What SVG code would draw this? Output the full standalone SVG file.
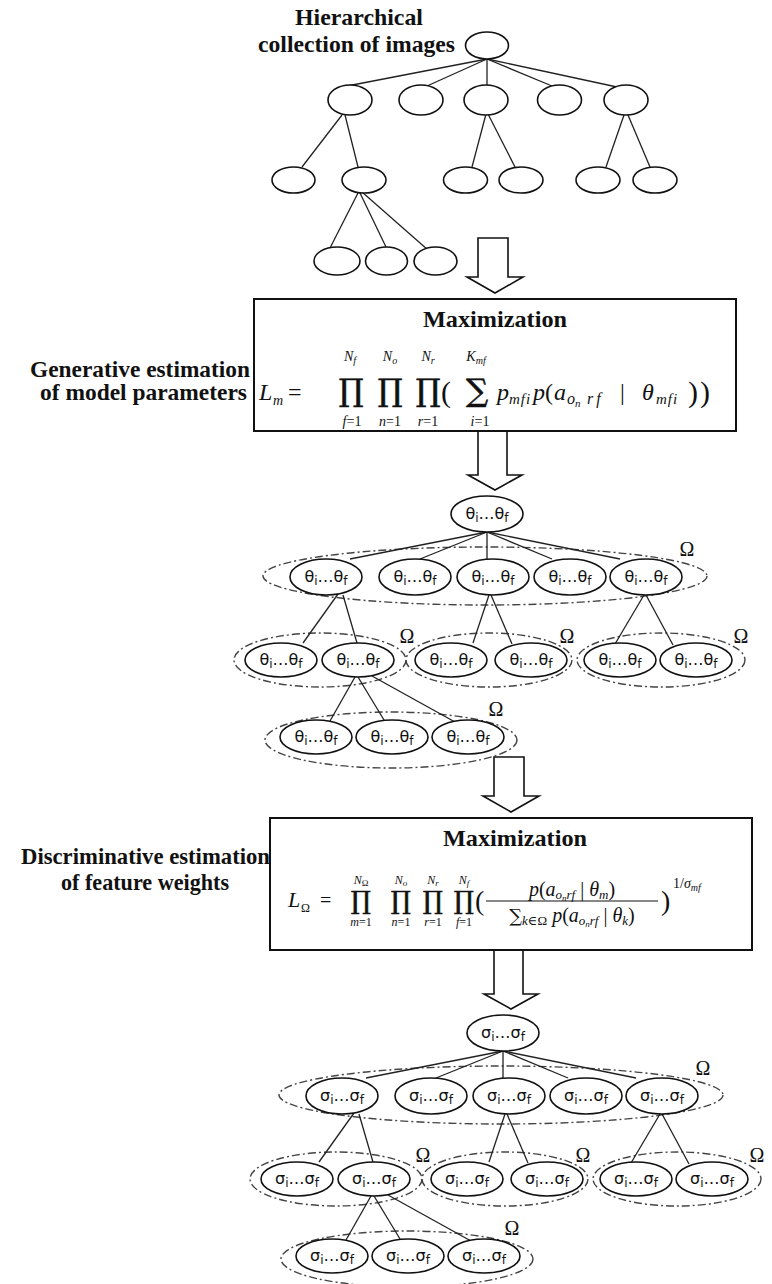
<svg xmlns="http://www.w3.org/2000/svg" width="772" height="1284" viewBox="0 0 772 1284">
<style>
.bg{fill:#fff}
.tn{fill:#fff;stroke:#111;stroke-width:1.6}
.nd{fill:#fff;stroke:#111;stroke-width:1.6}
.grp{fill:none;stroke:#444;stroke-width:1.4;stroke-dasharray:8 3 2 3}
.edge{stroke:#222;stroke-width:1.3;fill:none}
.arrow{fill:#fff;stroke:#111;stroke-width:1.6;stroke-linejoin:miter}
.box{fill:#fff;stroke:#111;stroke-width:2}
.lbl{font-family:"Liberation Serif","Times New Roman",serif;font-weight:bold;font-size:23px;fill:#111}
.nt{font-family:"DejaVu Sans",sans-serif;font-size:16px;fill:#111;text-anchor:middle}
.sb{font-size:12px}
.om{font-family:"Liberation Serif",serif;font-size:20px;fill:#111;text-anchor:middle}
.mi{font-family:"Liberation Serif","DejaVu Serif",serif;font-style:italic;fill:#111}
.mr{font-family:"Liberation Serif","DejaVu Serif",serif;font-style:normal;fill:#111}
.op{font-family:"DejaVu Serif",serif;fill:#111;stroke:#111;stroke-width:0.6;text-anchor:middle}
.c{text-anchor:middle}
</style>
<rect class="bg" x="0" y="0" width="772" height="1284"/>

<!-- ===== Top tree ===== -->
<g id="title">
<text class="lbl" x="295" y="25" textLength="128" lengthAdjust="spacingAndGlyphs">Hierarchical</text>
<text class="lbl" x="258" y="52" textLength="197" lengthAdjust="spacingAndGlyphs">collection of images</text>
</g>
<g id="top-edges">
<line class="edge" x1="487" y1="59" x2="342" y2="87"/>
<line class="edge" x1="487" y1="59" x2="427" y2="86"/>
<line class="edge" x1="487" y1="59" x2="487" y2="86"/>
<line class="edge" x1="487" y1="59" x2="552" y2="86"/>
<line class="edge" x1="487" y1="59" x2="617" y2="87"/>
<line class="edge" x1="342" y1="115" x2="302" y2="167"/>
<line class="edge" x1="345" y1="115" x2="358" y2="167"/>
<line class="edge" x1="486" y1="114" x2="472" y2="167"/>
<line class="edge" x1="488" y1="114" x2="515" y2="167"/>
<line class="edge" x1="624" y1="115" x2="606" y2="167"/>
<line class="edge" x1="628" y1="115" x2="650" y2="167"/>
<line class="edge" x1="358" y1="193" x2="330" y2="248"/>
<line class="edge" x1="360" y1="193" x2="386" y2="247"/>
<line class="edge" x1="362" y1="192" x2="428" y2="250"/>
</g>
<g id="top-root"><ellipse class="tn" cx="487" cy="45.5" rx="21.5" ry="13.5"/></g>
<g id="top-n1"><ellipse class="tn" cx="350" cy="100" rx="22" ry="15"/></g>
<g id="top-n2"><ellipse class="tn" cx="421" cy="100" rx="22" ry="15"/></g>
<g id="top-n3"><ellipse class="tn" cx="486" cy="100" rx="22" ry="15"/></g>
<g id="top-n4"><ellipse class="tn" cx="559.5" cy="100" rx="22" ry="15"/></g>
<g id="top-n5"><ellipse class="tn" cx="626" cy="100" rx="22" ry="15"/></g>
<g id="top-n6"><ellipse class="tn" cx="293.5" cy="180" rx="21.5" ry="13"/></g>
<g id="top-n7"><ellipse class="tn" cx="364" cy="180" rx="22" ry="13"/></g>
<g id="top-n8"><ellipse class="tn" cx="465.5" cy="180" rx="22" ry="13"/></g>
<g id="top-n9"><ellipse class="tn" cx="521" cy="180" rx="22" ry="13"/></g>
<g id="top-n10"><ellipse class="tn" cx="598" cy="180" rx="22" ry="13"/></g>
<g id="top-n11"><ellipse class="tn" cx="655" cy="180" rx="22" ry="13"/></g>
<g id="top-n12"><ellipse class="tn" cx="337" cy="261" rx="23" ry="14"/></g>
<g id="top-n13"><ellipse class="tn" cx="386.5" cy="261" rx="21" ry="14"/></g>
<g id="top-n14"><ellipse class="tn" cx="435.5" cy="261" rx="21.5" ry="14"/></g>

<!-- ===== Block arrows ===== -->
<g id="arrows">
<path class="arrow" d="M478,238 H508 V277 H523 L495,293 L467,277 H478 Z"/>
<path class="arrow" d="M478,431 V475 H468 L495,490 L522,475 H507 V431"/>
<g transform="translate(16,519)">
<path class="arrow" d="M478,238 H508 V277 H523 L495,293 L467,277 H478 Z"/>
<path class="arrow" d="M478,431 V475 H468 L495,490 L522,475 H507 V431"/>
</g>
</g>

<!-- ===== Box 1: generative ===== -->
<g id="label-generative">
<text class="lbl" x="30" y="377" textLength="220" lengthAdjust="spacingAndGlyphs">Generative estimation</text>
<text class="lbl" x="40" y="400" textLength="207" lengthAdjust="spacingAndGlyphs">of model parameters</text>
</g>
<g id="box-generative">
<rect class="box" x="254" y="299" width="482" height="132"/>
<text class="lbl" x="423" y="327" textLength="144" lengthAdjust="spacingAndGlyphs">Maximization</text>
<text class="mi" x="259" y="400" font-size="24">L</text>
<text class="mi" x="273" y="405" font-size="14">m</text>
<text class="mr" x="288" y="400" font-size="24">=</text>
<text class="op" x="351" y="401" font-size="31">∏</text>
<text class="op" x="390" y="401" font-size="31">∏</text>
<text class="op" x="428" y="401" font-size="31">∏</text>
<text class="mr" x="441" y="402" font-size="30">(</text>
<text class="op" x="477" y="401" font-size="31">∑</text>
<text class="mi c" x="350" y="361" font-size="14">N<tspan font-size="10" dy="3">f</tspan></text>
<text class="mi c" x="390" y="361" font-size="14">N<tspan font-size="10" dy="3">o</tspan></text>
<text class="mi c" x="428" y="361" font-size="14">N<tspan font-size="10" dy="3">r</tspan></text>
<text class="mi c" x="476" y="361" font-size="14">K<tspan font-size="10" dy="3">mf</tspan></text>
<text class="mi c" x="352" y="426" font-size="14">f<tspan font-style="normal">=1</tspan></text>
<text class="mi c" x="390" y="426" font-size="14">n<tspan font-style="normal">=1</tspan></text>
<text class="mi c" x="428" y="426" font-size="14">r<tspan font-style="normal">=1</tspan></text>
<text class="mi c" x="480" y="426" font-size="14">i<tspan font-style="normal">=1</tspan></text>
<text class="mi" y="400" font-size="24"><tspan x="497">p</tspan><tspan x="509" dy="4" font-size="15" letter-spacing="1">mfi</tspan><tspan x="533" dy="-4">p</tspan><tspan x="545" font-style="normal">(</tspan><tspan x="554">a</tspan><tspan x="567" dy="4" font-size="16">o</tspan><tspan dy="3" font-size="11">n</tspan><tspan x="587" dy="-3" font-size="16" letter-spacing="3">rf</tspan><tspan x="620" dy="-4" font-style="normal">|</tspan><tspan x="642">θ</tspan><tspan x="656" dy="4" font-size="15" letter-spacing="1">mfi</tspan></text>
<text class="mr" x="688" y="402" font-size="30" letter-spacing="2">))</text>
</g>

<!-- ===== Theta tree ===== -->
<g id="theta-groups">
<ellipse class="grp" cx="485" cy="576" rx="222" ry="29"/>
<ellipse class="grp" cx="320" cy="660" rx="86" ry="27"/>
<ellipse class="grp" cx="489" cy="660" rx="83" ry="27"/>
<ellipse class="grp" cx="661" cy="660" rx="84" ry="27"/>
<ellipse class="grp" cx="391" cy="740" rx="126" ry="28"/>
<text class="om" x="687" y="556">Ω</text>
<text class="om" x="407" y="643">Ω</text>
<text class="om" x="567" y="643">Ω</text>
<text class="om" x="741" y="643">Ω</text>
<text class="om" x="496" y="716">Ω</text>
</g>
<g id="theta-edges">
<line class="edge" x1="487" y1="532" x2="350" y2="559"/>
<line class="edge" x1="487" y1="532" x2="420" y2="559"/>
<line class="edge" x1="487" y1="532" x2="487" y2="559"/>
<line class="edge" x1="487" y1="532" x2="552" y2="559"/>
<line class="edge" x1="487" y1="532" x2="620" y2="559"/>
<line class="edge" x1="338" y1="594" x2="303" y2="643"/>
<line class="edge" x1="343" y1="595" x2="357" y2="643"/>
<line class="edge" x1="489" y1="595" x2="473" y2="643"/>
<line class="edge" x1="491" y1="595" x2="512" y2="644"/>
<line class="edge" x1="644" y1="595" x2="615" y2="644"/>
<line class="edge" x1="646" y1="595" x2="673" y2="645"/>
<line class="edge" x1="355" y1="677" x2="330" y2="721"/>
<line class="edge" x1="358" y1="677" x2="384" y2="720"/>
<line class="edge" x1="372" y1="676" x2="455" y2="722"/>
</g>
<g id="th-root"><ellipse class="nd" cx="487" cy="514" rx="36" ry="18"/><text class="nt" x="487" y="519">θ<tspan class="sb" dy="3">i</tspan><tspan dy="-3">…θ</tspan><tspan class="sb" dy="3">f</tspan></text></g>
<g id="th-1"><ellipse class="nd" cx="326" cy="577" rx="36" ry="18"/><text class="nt" x="326" y="582">θ<tspan class="sb" dy="3">i</tspan><tspan dy="-3">…θ</tspan><tspan class="sb" dy="3">f</tspan></text></g>
<g id="th-2"><ellipse class="nd" cx="415" cy="577" rx="36" ry="18"/><text class="nt" x="415" y="582">θ<tspan class="sb" dy="3">i</tspan><tspan dy="-3">…θ</tspan><tspan class="sb" dy="3">f</tspan></text></g>
<g id="th-3"><ellipse class="nd" cx="493" cy="577" rx="36" ry="18"/><text class="nt" x="493" y="582">θ<tspan class="sb" dy="3">i</tspan><tspan dy="-3">…θ</tspan><tspan class="sb" dy="3">f</tspan></text></g>
<g id="th-4"><ellipse class="nd" cx="570" cy="577" rx="36" ry="18"/><text class="nt" x="570" y="582">θ<tspan class="sb" dy="3">i</tspan><tspan dy="-3">…θ</tspan><tspan class="sb" dy="3">f</tspan></text></g>
<g id="th-5"><ellipse class="nd" cx="646" cy="577" rx="36" ry="18"/><text class="nt" x="646" y="582">θ<tspan class="sb" dy="3">i</tspan><tspan dy="-3">…θ</tspan><tspan class="sb" dy="3">f</tspan></text></g>
<g id="th-6"><ellipse class="nd" cx="281" cy="660" rx="36" ry="17"/><text class="nt" x="281" y="665">θ<tspan class="sb" dy="3">i</tspan><tspan dy="-3">…θ</tspan><tspan class="sb" dy="3">f</tspan></text></g>
<g id="th-7"><ellipse class="nd" cx="358" cy="660" rx="36" ry="17"/><text class="nt" x="358" y="665">θ<tspan class="sb" dy="3">i</tspan><tspan dy="-3">…θ</tspan><tspan class="sb" dy="3">f</tspan></text></g>
<g id="th-8"><ellipse class="nd" cx="451" cy="660" rx="36" ry="17"/><text class="nt" x="451" y="665">θ<tspan class="sb" dy="3">i</tspan><tspan dy="-3">…θ</tspan><tspan class="sb" dy="3">f</tspan></text></g>
<g id="th-9"><ellipse class="nd" cx="531" cy="660" rx="36" ry="17"/><text class="nt" x="531" y="665">θ<tspan class="sb" dy="3">i</tspan><tspan dy="-3">…θ</tspan><tspan class="sb" dy="3">f</tspan></text></g>
<g id="th-10"><ellipse class="nd" cx="620" cy="660" rx="36" ry="17"/><text class="nt" x="620" y="665">θ<tspan class="sb" dy="3">i</tspan><tspan dy="-3">…θ</tspan><tspan class="sb" dy="3">f</tspan></text></g>
<g id="th-11"><ellipse class="nd" cx="696" cy="660" rx="36" ry="17"/><text class="nt" x="696" y="665">θ<tspan class="sb" dy="3">i</tspan><tspan dy="-3">…θ</tspan><tspan class="sb" dy="3">f</tspan></text></g>
<g id="th-12"><ellipse class="nd" cx="316" cy="737" rx="36" ry="17"/><text class="nt" x="316" y="742">θ<tspan class="sb" dy="3">i</tspan><tspan dy="-3">…θ</tspan><tspan class="sb" dy="3">f</tspan></text></g>
<g id="th-13"><ellipse class="nd" cx="392" cy="737" rx="36" ry="17"/><text class="nt" x="392" y="742">θ<tspan class="sb" dy="3">i</tspan><tspan dy="-3">…θ</tspan><tspan class="sb" dy="3">f</tspan></text></g>
<g id="th-14"><ellipse class="nd" cx="468" cy="737" rx="36" ry="17"/><text class="nt" x="468" y="742">θ<tspan class="sb" dy="3">i</tspan><tspan dy="-3">…θ</tspan><tspan class="sb" dy="3">f</tspan></text></g>

<!-- ===== Box 2: discriminative ===== -->
<g id="label-discriminative">
<text class="lbl" x="21" y="864" textLength="249" lengthAdjust="spacingAndGlyphs">Discriminative estimation</text>
<text class="lbl" x="61" y="890" textLength="168" lengthAdjust="spacingAndGlyphs">of feature weights</text>
</g>
<g id="box-discriminative">
<rect class="box" x="270" y="818" width="482" height="132"/>
<text class="lbl" x="443" y="846" textLength="144" lengthAdjust="spacingAndGlyphs">Maximization</text>
<text class="mi" x="288" y="907" font-size="22">L</text>
<text class="mr" x="301" y="912" font-size="12">Ω</text>
<text class="mr" x="320" y="907" font-size="20">=</text>
<text class="op" x="361" y="909" font-size="25">∏</text>
<text class="op" x="401" y="909" font-size="25">∏</text>
<text class="op" x="433" y="909" font-size="25">∏</text>
<text class="op" x="464" y="909" font-size="25">∏</text>
<text class="mi c" x="361" y="884" font-size="12">N<tspan font-style="normal" font-size="9" dy="2">Ω</tspan></text>
<text class="mi c" x="401" y="884" font-size="12">N<tspan font-size="9" dy="2">o</tspan></text>
<text class="mi c" x="433" y="884" font-size="12">N<tspan font-size="9" dy="2">r</tspan></text>
<text class="mi c" x="464" y="884" font-size="12">N<tspan font-size="9" dy="2">f</tspan></text>
<text class="mi c" x="361" y="926" font-size="12">m<tspan font-style="normal">=1</tspan></text>
<text class="mi c" x="401" y="926" font-size="12">n<tspan font-style="normal">=1</tspan></text>
<text class="mi c" x="433" y="926" font-size="12">r<tspan font-style="normal">=1</tspan></text>
<text class="mi c" x="464" y="926" font-size="12">f<tspan font-style="normal">=1</tspan></text>
<text class="mr" x="475" y="910" font-size="28">(</text>
<text class="mi c" x="572" y="896" font-size="20">p<tspan font-style="normal">(</tspan>a<tspan font-size="13" dy="3">o</tspan><tspan font-size="9" dy="2">n</tspan><tspan font-size="13" dy="-2">rf</tspan><tspan dy="-3" font-style="normal"> | </tspan>θ<tspan font-size="13" dy="3">m</tspan><tspan dy="-3" font-style="normal">)</tspan></text>
<line x1="486" y1="901" x2="658" y2="901" stroke="#111" stroke-width="1.2"/>
<text class="mi c" x="572" y="922" font-size="20"><tspan font-family="DejaVu Serif" font-style="normal" font-size="18">∑</tspan><tspan font-size="13" dy="3">k</tspan><tspan font-size="13" font-style="normal">∈Ω</tspan><tspan dy="-3"> p</tspan><tspan font-style="normal">(</tspan>a<tspan font-size="13" dy="3">o</tspan><tspan font-size="9" dy="2">n</tspan><tspan font-size="13" dy="-2">rf</tspan><tspan dy="-3" font-style="normal"> | </tspan>θ<tspan font-size="13" dy="3">k</tspan><tspan dy="-3" font-style="normal">)</tspan></text>
<text class="mr" x="661" y="910" font-size="28">)</text>
<text class="mi" x="673" y="888" font-size="14"><tspan font-style="normal">1/</tspan>σ<tspan font-size="10" dy="3">mf</tspan></text>
</g>

<!-- ===== Sigma tree ===== -->
<g id="sigma-tree" transform="translate(16,519)">
<g id="sigma-groups">
<ellipse class="grp" cx="485" cy="576" rx="222" ry="29"/>
<ellipse class="grp" cx="320" cy="660" rx="86" ry="27"/>
<ellipse class="grp" cx="489" cy="660" rx="83" ry="27"/>
<ellipse class="grp" cx="661" cy="660" rx="84" ry="27"/>
<ellipse class="grp" cx="391" cy="740" rx="126" ry="28"/>
<text class="om" x="687" y="556">Ω</text>
<text class="om" x="407" y="643">Ω</text>
<text class="om" x="567" y="643">Ω</text>
<text class="om" x="741" y="643">Ω</text>
<text class="om" x="496" y="716">Ω</text>
</g>
<g id="sigma-edges">
<line class="edge" x1="487" y1="532" x2="350" y2="559"/>
<line class="edge" x1="487" y1="532" x2="420" y2="559"/>
<line class="edge" x1="487" y1="532" x2="487" y2="559"/>
<line class="edge" x1="487" y1="532" x2="552" y2="559"/>
<line class="edge" x1="487" y1="532" x2="620" y2="559"/>
<line class="edge" x1="338" y1="594" x2="303" y2="643"/>
<line class="edge" x1="343" y1="595" x2="357" y2="643"/>
<line class="edge" x1="489" y1="595" x2="473" y2="643"/>
<line class="edge" x1="491" y1="595" x2="512" y2="644"/>
<line class="edge" x1="644" y1="595" x2="615" y2="644"/>
<line class="edge" x1="646" y1="595" x2="673" y2="645"/>
<line class="edge" x1="355" y1="677" x2="330" y2="721"/>
<line class="edge" x1="358" y1="677" x2="384" y2="720"/>
<line class="edge" x1="372" y1="676" x2="455" y2="722"/>
</g>
<g id="sg-root"><ellipse class="nd" cx="487" cy="514" rx="36" ry="18"/><text class="nt" x="487" y="519">σ<tspan class="sb" dy="3">i</tspan><tspan dy="-3">…σ</tspan><tspan class="sb" dy="3">f</tspan></text></g>
<g id="sg-1"><ellipse class="nd" cx="326" cy="577" rx="36" ry="18"/><text class="nt" x="326" y="582">σ<tspan class="sb" dy="3">i</tspan><tspan dy="-3">…σ</tspan><tspan class="sb" dy="3">f</tspan></text></g>
<g id="sg-2"><ellipse class="nd" cx="415" cy="577" rx="36" ry="18"/><text class="nt" x="415" y="582">σ<tspan class="sb" dy="3">i</tspan><tspan dy="-3">…σ</tspan><tspan class="sb" dy="3">f</tspan></text></g>
<g id="sg-3"><ellipse class="nd" cx="493" cy="577" rx="36" ry="18"/><text class="nt" x="493" y="582">σ<tspan class="sb" dy="3">i</tspan><tspan dy="-3">…σ</tspan><tspan class="sb" dy="3">f</tspan></text></g>
<g id="sg-4"><ellipse class="nd" cx="570" cy="577" rx="36" ry="18"/><text class="nt" x="570" y="582">σ<tspan class="sb" dy="3">i</tspan><tspan dy="-3">…σ</tspan><tspan class="sb" dy="3">f</tspan></text></g>
<g id="sg-5"><ellipse class="nd" cx="646" cy="577" rx="36" ry="18"/><text class="nt" x="646" y="582">σ<tspan class="sb" dy="3">i</tspan><tspan dy="-3">…σ</tspan><tspan class="sb" dy="3">f</tspan></text></g>
<g id="sg-6"><ellipse class="nd" cx="281" cy="660" rx="36" ry="17"/><text class="nt" x="281" y="665">σ<tspan class="sb" dy="3">i</tspan><tspan dy="-3">…σ</tspan><tspan class="sb" dy="3">f</tspan></text></g>
<g id="sg-7"><ellipse class="nd" cx="358" cy="660" rx="36" ry="17"/><text class="nt" x="358" y="665">σ<tspan class="sb" dy="3">i</tspan><tspan dy="-3">…σ</tspan><tspan class="sb" dy="3">f</tspan></text></g>
<g id="sg-8"><ellipse class="nd" cx="451" cy="660" rx="36" ry="17"/><text class="nt" x="451" y="665">σ<tspan class="sb" dy="3">i</tspan><tspan dy="-3">…σ</tspan><tspan class="sb" dy="3">f</tspan></text></g>
<g id="sg-9"><ellipse class="nd" cx="531" cy="660" rx="36" ry="17"/><text class="nt" x="531" y="665">σ<tspan class="sb" dy="3">i</tspan><tspan dy="-3">…σ</tspan><tspan class="sb" dy="3">f</tspan></text></g>
<g id="sg-10"><ellipse class="nd" cx="620" cy="660" rx="36" ry="17"/><text class="nt" x="620" y="665">σ<tspan class="sb" dy="3">i</tspan><tspan dy="-3">…σ</tspan><tspan class="sb" dy="3">f</tspan></text></g>
<g id="sg-11"><ellipse class="nd" cx="696" cy="660" rx="36" ry="17"/><text class="nt" x="696" y="665">σ<tspan class="sb" dy="3">i</tspan><tspan dy="-3">…σ</tspan><tspan class="sb" dy="3">f</tspan></text></g>
<g id="sg-12"><ellipse class="nd" cx="316" cy="737" rx="36" ry="17"/><text class="nt" x="316" y="742">σ<tspan class="sb" dy="3">i</tspan><tspan dy="-3">…σ</tspan><tspan class="sb" dy="3">f</tspan></text></g>
<g id="sg-13"><ellipse class="nd" cx="392" cy="737" rx="36" ry="17"/><text class="nt" x="392" y="742">σ<tspan class="sb" dy="3">i</tspan><tspan dy="-3">…σ</tspan><tspan class="sb" dy="3">f</tspan></text></g>
<g id="sg-14"><ellipse class="nd" cx="468" cy="737" rx="36" ry="17"/><text class="nt" x="468" y="742">σ<tspan class="sb" dy="3">i</tspan><tspan dy="-3">…σ</tspan><tspan class="sb" dy="3">f</tspan></text></g>
</g>
</svg>
